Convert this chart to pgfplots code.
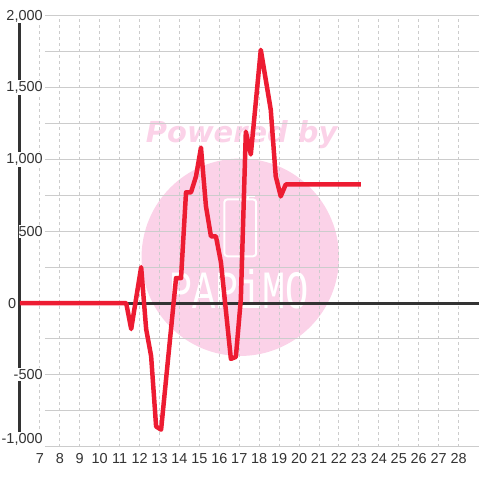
\documentclass[border=0pt]{standalone}
\usepackage{fontspec}
\setmainfont{Liberation Sans}
\newfontfamily\djv{DejaVu Sans}
\newfontfamily\lmono{Liberation Mono}
\usepackage{graphicx}
\usepackage{pgfplots}
\pgfplotsset{compat=1.18}
\definecolor{redline}{RGB}{237,28,50}
\definecolor{dark}{RGB}{51,51,51}
\definecolor{gridc}{RGB}{204,204,204}
\definecolor{pinkw}{RGB}{251,210,232}
\definecolor{lab}{RGB}{51,51,51}
\begin{document}
\begin{tikzpicture}
\begin{axis}[
  set layers,
  scale only axis, width=460pt, height=432pt,
  xmin=6, xmax=29, ymin=-1000, ymax=2000,
  axis x line*=bottom, axis y line*=left,
  x axis line style={draw=none},
  y axis line style={line width=3pt, draw=dark, -},
  major tick length=0pt,
  xtick={7,...,28},
  ytick={-500,500,1000,1500,2000},
  yticklabels={-500,500,1{,}000,1{,}500,2{,}000},
  extra y ticks={-1000}, extra y tick labels={-1{,}000},
  extra y tick style={grid=none, yticklabel style={yshift=7pt}},
  xmajorgrids, ymajorgrids=false,
  major grid style={gridc, line width=1pt, dash pattern=on 3pt off 3pt},
  ticklabel style={font=\fontsize{14.5}{16}\selectfont, text=lab},
  yticklabel style={anchor=east, xshift=23pt, fill=white, inner xsep=0pt, inner ysep=1.5pt},
  xticklabel style={anchor=north, inner sep=0pt, yshift=-7pt},
  /pgf/number format/assume math mode=true,
  clip=false,
]
\begin{pgfonlayer}{axis background}
  \fill[pinkw] (axis cs:17.05,319) circle[radius=99pt];
  \node[anchor=base, inner sep=0pt, text=pinkw, font=\djv\bfseries\itshape\fontsize{29}{30}\selectfont] at (axis cs:17.125,1118) {Powered by};
  \draw[white, line width=2pt, rounded corners=3pt] (axis cs:16.25,326) rectangle (axis cs:17.85,722);
  \draw[white, line width=2pt] (axis cs:17.45,722) -- (axis cs:17.45,745) -- (axis cs:17.8,745);
  \node[inner sep=0pt, text=white, font=\lmono\fontsize{54}{54}\selectfont] at (axis cs:17.0,97) {\scalebox{0.72}[1]{PAPiMO}};
\end{pgfonlayer}
\pgfplotsinvokeforeach{-1000,-750,...,2000}{
  \draw[gridc, line width=1pt] (axis cs:7.25,#1) -- (axis cs:29,#1);
}
\draw[dark, line width=3pt] (axis cs:6,0) -- (axis cs:29,0);
\node[anchor=east, inner sep=0pt, font=\fontsize{14.5}{16}\selectfont, text=lab] at (axis cs:5.825,0) {0};
\addplot[redline, line width=4.5pt, line join=round] coordinates {
  (6,0) (11.33,0) (11.58,-181) (12.08,250) (12.33,-181) (12.58,-370)
  (12.83,-860) (13.08,-882) (13.83,174) (14.08,174) (14.33,771) (14.58,771)
  (14.83,882) (15.08,1083) (15.33,674) (15.58,465) (15.83,465) (16.08,285)
  (16.58,-389) (16.83,-375) (17.08,28) (17.33,1194) (17.58,1035) (18.08,1764)
  (18.58,1347) (18.83,882) (19.08,743) (19.33,826) (23.1,826)
};
\end{axis}
\path (-20pt,-32pt) rectangle (460pt,448pt);
\end{tikzpicture}
\end{document}
